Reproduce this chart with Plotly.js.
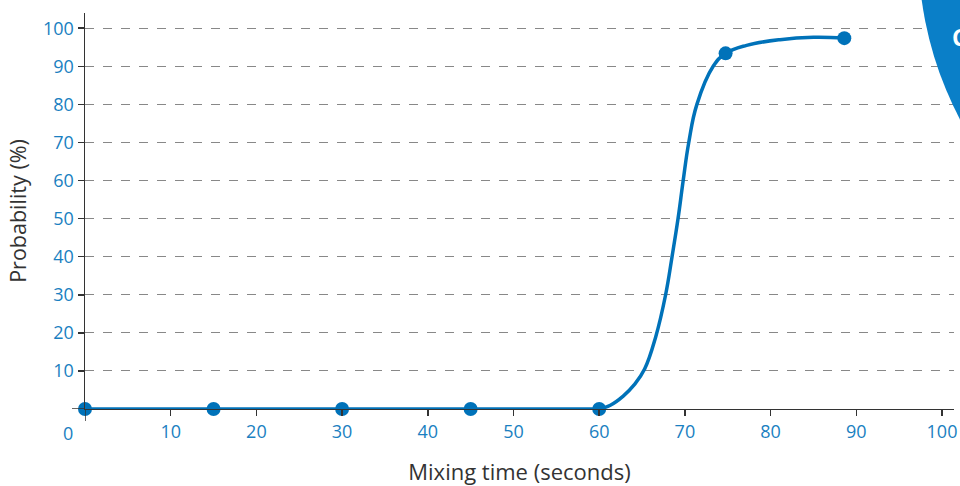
<!DOCTYPE html>
<html>
<head>
<meta charset="utf-8">
<script src="https://cdn.plot.ly/plotly-3.0.1.min.js"></script>
<style>html,body{margin:0;padding:0;background:#fff;}#chart{width:960px;height:486px;}</style>
</head>
<body>
<div id="chart"></div>
<script>
// Measured points (markers)
var mixTime = [0, 15, 30, 45, 60, 74.75, 88.6];
var probability = [0, 0, 0, 0, 0, 93.4, 97.4];

// Flat part of the fitted curve
var flatTime = [0, 15, 30, 45, 60];
var flatProb = [0, 0, 0, 0, 0];
// Rising part of the fitted curve
var riseTime = [60, 61.3, 62.8, 64.1, 65.3, 66.6, 67.75, 68.5, 69.2, 69.8, 70.45, 71.4, 73.3, 74.75, 77.2, 81.1, 85.0, 88.6];
var riseProb = [0, 1.0, 3.4, 6.4, 10.5, 19, 30, 40, 50, 60, 70, 80, 90, 93.4, 95.5, 97.0, 97.6, 97.4];

var xTicks = [10, 20, 30, 40, 50, 60, 70, 80, 90, 100];
var yTicks = [10, 20, 30, 40, 50, 60, 70, 80, 90, 100];

var lineBlue = '#0072b9';
var labelBlue = '#1a7fc1';
var fontFam = '"Open Sans", sans-serif';

var traces = [
  {x: flatTime, y: flatProb, mode: 'lines', line: {color: lineBlue, width: 3.5}, hoverinfo: 'skip', cliponaxis: false},
  {x: riseTime, y: riseProb, mode: 'lines', line: {color: lineBlue, width: 3.5, shape: 'spline', smoothing: 1.2}, hoverinfo: 'skip', cliponaxis: false},
  {x: mixTime, y: probability, mode: 'markers', marker: {color: lineBlue, size: 14}, cliponaxis: false}
];

var layout = {
  width: 960, height: 486,
  margin: {l: 85.3, r: 6, t: 12.7, b: 77},
  paper_bgcolor: '#fff', plot_bgcolor: '#fff',
  showlegend: false,
  font: {family: fontFam, color: labelBlue, size: 18},
  xaxis: {
    range: [0, 101.4], tickvals: xTicks, ticktext: xTicks.map(String),
    showgrid: false, zeroline: false, showline: true, linecolor: '#333', linewidth: 1.2,
    ticks: 'outside', ticklen: 6, tickwidth: 1.5, tickcolor: '#333',
    tickfont: {family: fontFam, size: 18, color: labelBlue},
    title: {text: 'Mixing time (seconds)', font: {family: fontFam, size: 22, color: '#333'}, standoff: 28}
  },
  yaxis: {
    range: [0, 104], tickvals: yTicks, ticktext: yTicks.map(String),
    showgrid: true, gridcolor: '#888', griddash: 'dash', gridwidth: 1,
    zeroline: false, showline: true, linecolor: '#333', linewidth: 1.5,
    ticks: 'outside', ticklen: 6, tickwidth: 1.5, tickcolor: '#333',
    tickfont: {family: fontFam, size: 18, color: labelBlue},
    title: {text: 'Probability (%)', font: {family: fontFam, size: 21.5, color: '#333'}, standoff: 10}
  },
  shapes: [
    {type: 'line', xref: 'x', yref: 'paper', x0: 0, x1: 0, y0: -0.03, y1: 0, line: {color: '#333', width: 1.5}},
    {type: 'line', xref: 'paper', yref: 'y', x0: -0.015, x1: 0, y0: 0, y1: 0, line: {color: '#333', width: 1.5}},
    {type: 'circle', xref: 'paper', yref: 'paper', x0: 0.959, x1: 1.794, y0: 0.243, y1: 2.069, fillcolor: '#0a7fc8', line: {width: 0}, layer: 'above'}
  ],
  annotations: [
    {xref: 'x', yref: 'paper', x: 0, y: 0, yanchor: 'top', xanchor: 'center', xshift: -17, yshift: -10, text: '0', showarrow: false, font: {family: fontFam, size: 18, color: labelBlue}},
    {xref: 'paper', yref: 'paper', x: 0.9955, y: 0.94, xanchor: 'left', yanchor: 'middle', text: '<b>C</b>', showarrow: false, font: {family: fontFam, size: 23, color: '#fff'}}
  ]
};

Plotly.newPlot('chart', traces, layout, {displayModeBar: false, staticPlot: true});
</script>
</body>
</html>
